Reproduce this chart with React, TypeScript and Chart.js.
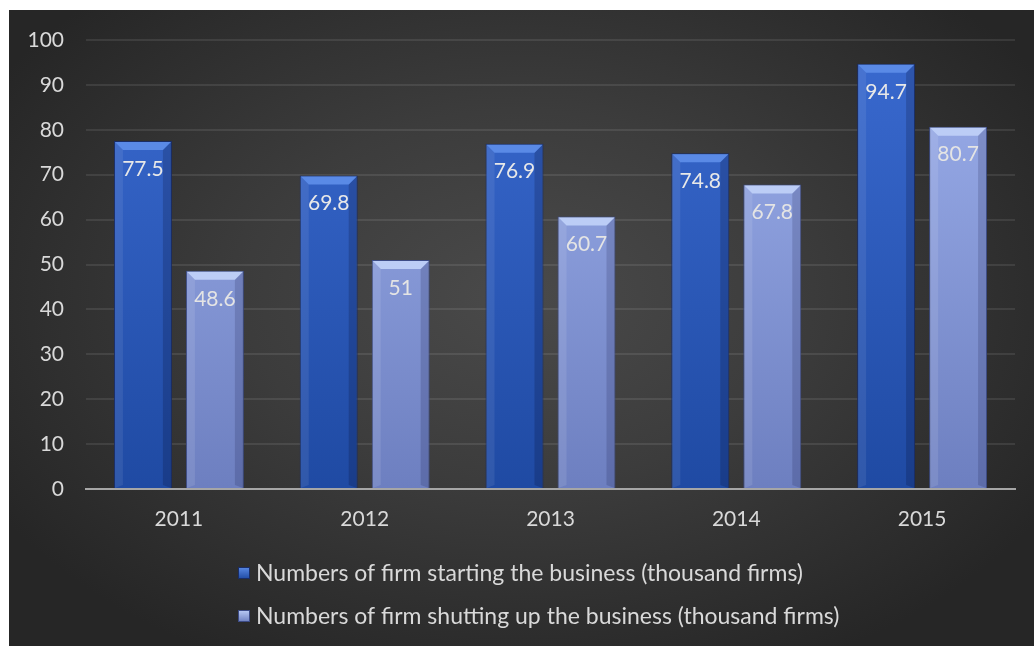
import React, { useEffect, useRef } from "react";
import { Chart, registerables } from "chart.js";

Chart.register(...registerables);

const categories = ["2011", "2012", "2013", "2014", "2015"];
const startingFirms = [77.5, 69.8, 76.9, 74.8, 94.7];
const shuttingFirms = [48.6, 51, 60.7, 67.8, 80.7];
const seriesLabels = [
  "Numbers of firm starting the business (thousand firms)",
  "Numbers of firm shutting up the business (thousand firms)",
];
const yTicks = [0, 10, 20, 30, 40, 50, 60, 70, 80, 90, 100];

const FONT = "Lato, 'Open Sans', sans-serif";

const palette = [
  { top: "#3a6ad0", bottom: "#1f4aa3", bevel: "#5a8ae6", side: "rgba(255,255,255,0.08)", dark: "rgba(0,0,20,0.18)", border: "#1a2d66", label: "#e8e8e8" },
  { top: "#9db0ec", bottom: "#6d7fc0", bevel: "#bccdf6", side: "rgba(255,255,255,0.10)", dark: "rgba(0,0,40,0.15)", border: "#3d4c86", label: "#e4e4e4" },
];

const barDecor = {
  id: "barDecor",
  afterDatasetsDraw(chart: any) {
    const ctx = chart.ctx;
    chart.data.datasets.forEach((ds: any, di: number) => {
      const meta = chart.getDatasetMeta(di);
      const p = palette[di];
      meta.data.forEach((bar: any, i: number) => {
        const x0 = bar.x - bar.width / 2;
        const x1 = bar.x + bar.width / 2;
        const y0 = bar.y;
        const yb = bar.base;
        const inset = 9;
        ctx.save();
        ctx.fillStyle = p.side;
        ctx.beginPath();
        ctx.moveTo(x0 + 1, y0 + 1);
        ctx.lineTo(x0 + inset, y0 + inset);
        ctx.lineTo(x0 + inset, yb - 3);
        ctx.lineTo(x0 + 1, yb);
        ctx.closePath();
        ctx.fill();
        ctx.fillStyle = p.dark;
        ctx.beginPath();
        ctx.moveTo(x1 - 1, y0 + 1);
        ctx.lineTo(x1 - inset, y0 + inset);
        ctx.lineTo(x1 - inset, yb - 3);
        ctx.lineTo(x1 - 1, yb);
        ctx.closePath();
        ctx.fill();
        ctx.fillStyle = p.bevel;
        ctx.beginPath();
        ctx.moveTo(x0 + 1, y0 + 1);
        ctx.lineTo(x1 - 1, y0 + 1);
        ctx.lineTo(x1 - inset, y0 + inset);
        ctx.lineTo(x0 + inset, y0 + inset);
        ctx.closePath();
        ctx.fill();
        ctx.fillStyle = p.label;
        ctx.font = `21px ${FONT}`;
        ctx.textAlign = "center";
        ctx.textBaseline = "middle";
        ctx.fillText(String(ds.data[i]), bar.x, y0 + 28);
        ctx.restore();
      });
    });
  },
};

const customLegend = {
  id: "customLegend",
  afterDraw(chart: any) {
    const ctx = chart.ctx;
    const startX = chart.chartArea.left + 152;
    const rows = [563, 606];
    chart.data.datasets.forEach((ds: any, di: number) => {
      const p = palette[di];
      const y = rows[di];
      ctx.save();
      const g = ctx.createLinearGradient(0, y - 6, 0, y + 6);
      g.addColorStop(0, p.bevel);
      g.addColorStop(1, p.bottom);
      ctx.fillStyle = g;
      ctx.fillRect(startX, y - 6, 12, 12);
      ctx.strokeStyle = p.border;
      ctx.lineWidth = 1;
      ctx.strokeRect(startX + 0.5, y - 5.5, 11, 11);
      ctx.fillStyle = "#d9d9d9";
      ctx.font = `23px ${FONT}`;
      ctx.textAlign = "left";
      ctx.textBaseline = "middle";
      ctx.fillText(ds.label, startX + 18, y + 1);
      ctx.restore();
    });
  },
};

function gradientFor(di: number) {
  return (context: any) => {
    const chart = context.chart;
    const area = chart.chartArea;
    if (!area) return palette[di].top;
    const g = chart.ctx.createLinearGradient(0, area.top, 0, area.bottom);
    g.addColorStop(0, palette[di].top);
    g.addColorStop(1, palette[di].bottom);
    return g;
  };
}

export default function App() {
  const canvasRef = useRef<HTMLCanvasElement | null>(null);

  useEffect(() => {
    if (!canvasRef.current) return;
    const chart = new Chart(canvasRef.current, {
      type: "bar",
      data: {
        labels: categories,
        datasets: [
          {
            label: seriesLabels[0],
            data: startingFirms,
            backgroundColor: gradientFor(0),
            borderColor: palette[0].border,
            borderWidth: 1,
            categoryPercentage: 0.775,
            barPercentage: 0.805,
          },
          {
            label: seriesLabels[1],
            data: shuttingFirms,
            backgroundColor: gradientFor(1),
            borderColor: palette[1].border,
            borderWidth: 1,
            categoryPercentage: 0.775,
            barPercentage: 0.805,
          },
        ],
      },
      options: {
        animation: false,
        responsive: false,
        maintainAspectRatio: false,
        layout: { padding: { left: 0, right: 19, top: 30, bottom: 97 } },
        plugins: {
          legend: { display: false },
          tooltip: { enabled: false },
        },
        scales: {
          x: {
            grid: { display: false, drawTicks: false },
            border: { display: true, color: "#a6a6a6", width: 2 },
            ticks: { color: "#d9d9d9", font: { family: FONT, size: 21 }, padding: 18 },
            afterFit: (scale: any) => {
              scale.height = 60;
            },
          },
          y: {
            min: 0,
            max: 100,
            afterBuildTicks: (scale: any) => {
              scale.ticks = yTicks.map((v) => ({ value: v }));
            },
            grid: {
              color: (c: any) => (c.tick && c.tick.value === 0 ? "rgba(0,0,0,0)" : "rgba(255,255,255,0.09)"),
              lineWidth: 2,
              drawTicks: true,
              tickLength: 22,
              tickColor: "rgba(0,0,0,0)",
            },
            border: { display: false },
            ticks: { color: "#d9d9d9", font: { family: FONT, size: 21 }, padding: 0 },
            afterFit: (scale: any) => {
              scale.width = 77;
            },
          },
        },
      },
      plugins: [barDecor, customLegend],
    } as any);
    return () => chart.destroy();
  }, []);

  return (
    <div
      style={{
        position: "fixed",
        left: 0,
        top: 0,
        width: 1034,
        height: 646,
        background: "#ffffff",
      }}
    >
      <div
        style={{
          position: "absolute",
          left: 9,
          top: 10,
          width: 1025,
          height: 636,
          background: "radial-gradient(ellipse 60% 65% at 50% 45%, #4a4a4a 0%, #3c3c3c 45%, #262626 100%)",
        }}
      >
        <canvas ref={canvasRef} width={1025} height={636} style={{ display: "block" }} />
      </div>
    </div>
  );
}
